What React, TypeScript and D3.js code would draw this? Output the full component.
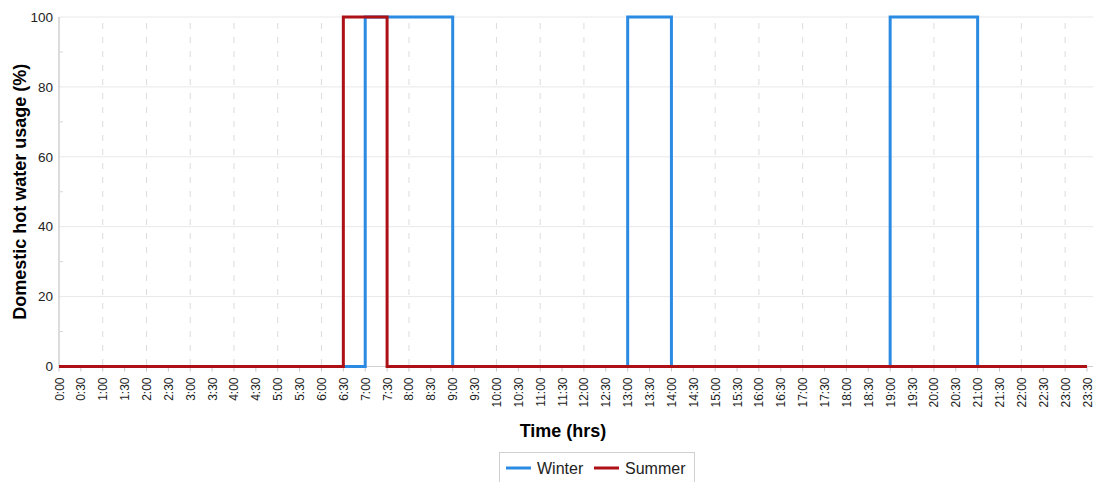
import React from "react";
import * as d3 from "d3";

const times: string[] = [
  "0:00","0:30","1:00","1:30","2:00","2:30","3:00","3:30","4:00","4:30","5:00","5:30",
  "6:00","6:30","7:00","7:30","8:00","8:30","9:00","9:30","10:00","10:30","11:00","11:30",
  "12:00","12:30","13:00","13:30","14:00","14:30","15:00","15:30","16:00","16:30","17:00","17:30",
  "18:00","18:30","19:00","19:30","20:00","20:30","21:00","21:30","22:00","22:30","23:00","23:30",
];
const winter: number[] = [
  0,0,0,0,0,0,0,0,0,0,0,0,
  0,0,100,100,100,100,0,0,0,0,0,0,
  0,0,100,100,0,0,0,0,0,0,0,0,
  0,0,100,100,100,100,0,0,0,0,0,0,
];
const summer: number[] = [
  0,0,0,0,0,0,0,0,0,0,0,0,
  0,100,100,0,0,0,0,0,0,0,0,0,
  0,0,0,0,0,0,0,0,0,0,0,0,
  0,0,0,0,0,0,0,0,0,0,0,0,
];
const yTicks: number[] = [0, 20, 40, 60, 80, 100];
const yMinor: number[] = [10, 30, 50, 70, 90];

const W = 1099, H = 482;
const left = 59, right = 1087, top = 17, bottom = 366.5;
const FONT = "Arial, 'Liberation Sans', sans-serif";
const BLUE = "#2b8ae2";
const RED = "#ad1116";

export default function App() {
  const x = d3.scalePoint<string>().domain(times).range([left, right]);
  const y = d3.scaleLinear().domain([0, 100]).range([bottom, top]);
  const line = d3
    .line<number>()
    .x((_, i) => x(times[i]) as number)
    .y((d) => y(d))
    .curve(d3.curveStepAfter);

  return (
    <div style={{ position: "fixed", left: 0, top: 0 }}>
      <svg width={W} height={H} style={{ display: "block", background: "#fff" }}>
        {/* horizontal grid */}
        {yTicks.filter((t) => t > 0).map((t) => (
          <line key={"h" + t} x1={left} x2={1093} y1={y(t)} y2={y(t)} stroke="#e8e8e8" strokeWidth={1} />
        ))}
        {/* vertical dashed grid at full hours */}
        {times.map((t, i) =>
          i > 0 && i % 2 === 0 ? (
            <line key={"v" + t} x1={x(t)} x2={x(t)} y1={top + 6} y2={bottom} stroke="#dcdcdc" strokeWidth={1} strokeDasharray="6,8" />
          ) : null
        )}
        {/* y axis */}
        <line x1={left} x2={left} y1={top} y2={bottom} stroke="#b8b8b8" strokeWidth={1} />
        {yMinor.map((t) => (
          <line key={"m" + t} x1={left} x2={left + 4} y1={y(t)} y2={y(t)} stroke="#d8d8d8" strokeWidth={1} />
        ))}
        {yTicks.map((t) => (
          <text key={"yl" + t} x={53} y={y(t)} dy="0.35em" textAnchor="end" fontFamily={FONT} fontSize={13.5} fill="#222">
            {t}
          </text>
        ))}
        {/* x axis */}
        <line x1={left} x2={1093} y1={bottom} y2={bottom} stroke="#d0d0d0" strokeWidth={1} />
        {times.map((t) => (
          <line key={"xt" + t} x1={x(t)} x2={x(t)} y1={bottom} y2={bottom + 5} stroke="#c8c8c8" strokeWidth={1} />
        ))}
        {times.map((t) => (
          <text
            key={"xl" + t}
            transform={`translate(${(x(t) as number) + 4.5},${bottom + 11}) rotate(-90)`}
            textAnchor="end"
            fontFamily={FONT}
            fontSize={12}
            fill="#222"
          >
            {t}
          </text>
        ))}
        {/* series */}
        <path d={line(winter) || ""} fill="none" stroke={BLUE} strokeWidth={3} />
        <path d={line(summer) || ""} fill="none" stroke={RED} strokeWidth={3} />
        {/* titles */}
        <text
          transform={`translate(26,${(top + bottom) / 2}) rotate(-90)`}
          textAnchor="middle"
          fontFamily={FONT}
          fontSize={18}
          fontWeight="bold"
          fill="#000"
        >
          Domestic hot water usage (%)
        </text>
        <text x={563} y={437} textAnchor="middle" fontFamily={FONT} fontSize={18} fontWeight="bold" fill="#000">
          Time (hrs)
        </text>
        {/* legend */}
        <rect x={499.5} y={452.5} width={195} height={34} fill="#fff" stroke="#d0d0d0" strokeWidth={1} />
        <line x1={506} x2={531} y1={468} y2={468} stroke={BLUE} strokeWidth={3} />
        <text x={537} y={468} dy="0.35em" fontFamily={FONT} fontSize={16} fill="#222">Winter</text>
        <line x1={594} x2={619} y1={468} y2={468} stroke={RED} strokeWidth={3} />
        <text x={625} y={468} dy="0.35em" fontFamily={FONT} fontSize={16} fill="#222">Summer</text>
      </svg>
    </div>
  );
}
